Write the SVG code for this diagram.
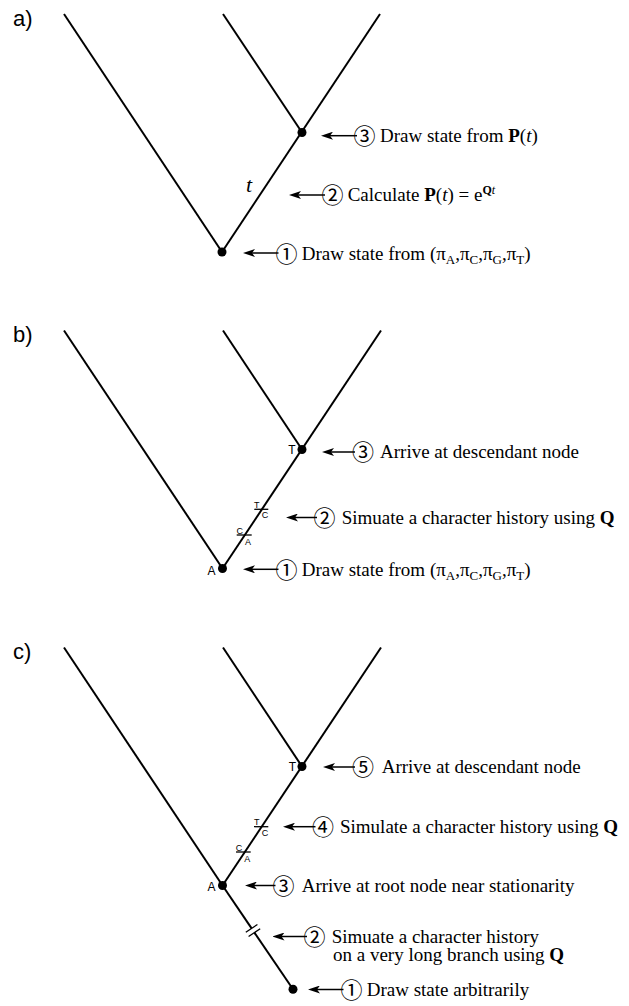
<svg xmlns="http://www.w3.org/2000/svg" width="629" height="1006" viewBox="0 0 629 1006">
<defs>
<marker id="ah" markerUnits="userSpaceOnUse" markerWidth="12" markerHeight="8" viewBox="0 0 12 8" refX="4" refY="4" orient="auto"><path d="M0,0 L12,4 L0,8 L3,4 Z" fill="#000"/></marker>
<style>
.br{stroke:#000;stroke-width:2;fill:none}
.ar{stroke:#000;stroke-width:1.5;fill:none;marker-end:url(#ah)}
.tk{stroke:#000;stroke-width:1.3}
.nd{fill:#000}
.t{font-family:"Liberation Serif",serif;font-size:19px;fill:#000}
.c{font-family:"Noto Sans CJK JP",sans-serif;font-size:22px}
.pl{font-family:"Liberation Sans",sans-serif;font-size:22px;fill:#000}
.nl{font-family:"Liberation Sans",sans-serif;font-size:12px;fill:#000;text-anchor:middle}
.sl{font-family:"Liberation Sans",sans-serif;font-size:9px;fill:#000;text-anchor:middle}
.b{font-weight:bold}
.i{font-style:italic}
.sub{font-size:13px}
</style>
</defs>

<g id="panel-labels">
<text class="pl" x="13" y="26">a)</text>
<text class="pl" x="13" y="342">b)</text>
<text class="pl" x="13" y="659">c)</text>
</g>

<g id="connectors">
<!-- panel a branches -->
<line class="br" x1="64" y1="14" x2="222" y2="252"/>
<line class="br" x1="222" y1="252" x2="380" y2="14"/>
<line class="br" x1="223" y1="14" x2="302" y2="132.5"/>
<!-- panel b branches -->
<line class="br" x1="64" y1="330.5" x2="222.5" y2="568.5"/>
<line class="br" x1="222.5" y1="568.5" x2="381" y2="330.5"/>
<line class="br" x1="223" y1="330.5" x2="302" y2="449.5"/>
<!-- panel c branches -->
<line class="br" x1="64" y1="647.5" x2="222.5" y2="885.5"/>
<line class="br" x1="222.5" y1="885.5" x2="381" y2="647.5"/>
<line class="br" x1="223" y1="647.5" x2="302" y2="766.5"/>
<line class="br" x1="222.5" y1="885.5" x2="251.6" y2="928.4"/>
<line class="br" x1="254.4" y1="932.6" x2="293" y2="989.3"/>
<line class="tk" x1="245.8" y1="932.3" x2="257.4" y2="924.5"/>
<line class="tk" x1="248.6" y1="936.5" x2="260.2" y2="928.7"/>

<!-- annotation arrows a -->
<line class="ar" x1="357" y1="135.7" x2="329" y2="135.7"/>
<line class="ar" x1="325" y1="195" x2="297" y2="195"/>
<line class="ar" x1="278.5" y1="253" x2="251" y2="253"/>
<!-- annotation arrows b -->
<line class="ar" x1="355" y1="452" x2="330" y2="452"/>
<line class="ar" x1="317" y1="517.5" x2="294" y2="517.5"/>
<line class="ar" x1="278.5" y1="569.3" x2="251" y2="569.3"/>
<!-- annotation arrows c -->
<line class="ar" x1="355" y1="767" x2="331" y2="767"/>
<line class="ar" x1="315.5" y1="826.7" x2="291" y2="826.7"/>
<line class="ar" x1="275.5" y1="885.5" x2="253" y2="885.5"/>
<line class="ar" x1="307" y1="936.5" x2="280.5" y2="936.5"/>
<line class="ar" x1="343.5" y1="989.5" x2="316" y2="989.5"/>
</g>

<g id="substitutions">
<!-- b -->
<line class="tk" x1="254.3" y1="509.3" x2="268.3" y2="509.3"/>
<text class="sl" x="256.8" y="507.8">T</text>
<text class="sl" x="265" y="518.3">C</text>
<line class="tk" x1="236.7" y1="535" x2="251.7" y2="535"/>
<text class="sl" x="239.7" y="533.5">C</text>
<text class="sl" x="247.9" y="544.5">A</text>
<!-- c -->
<line class="tk" x1="254" y1="826.7" x2="268.3" y2="826.7"/>
<text class="sl" x="256.7" y="825.2">T</text>
<text class="sl" x="265" y="835.7">C</text>
<line class="tk" x1="236" y1="852" x2="250.7" y2="852"/>
<text class="sl" x="239" y="850.5">C</text>
<text class="sl" x="247.3" y="861.5">A</text>
</g>

<g id="node-a-root"><circle class="nd" cx="222" cy="252" r="4.5"/></g>
<g id="node-a-desc"><circle class="nd" cx="302" cy="132.5" r="4.5"/></g>
<g id="label-a-t"><text class="t i" x="246" y="192" style="font-size:22px">t</text></g>

<g id="node-b-root"><circle class="nd" cx="222.5" cy="568.5" r="4.5"/><text class="nl" x="211.5" y="574.8">A</text></g>
<g id="node-b-desc"><circle class="nd" cx="302" cy="449.5" r="4.5"/><text class="nl" x="292" y="453.8">T</text></g>

<g id="node-c-root"><circle class="nd" cx="222.5" cy="885.5" r="4.5"/><text class="nl" x="211.5" y="890.8">A</text></g>
<g id="node-c-desc"><circle class="nd" cx="302" cy="766.5" r="4.5"/><text class="nl" x="292.5" y="771">T</text></g>
<g id="node-c-start"><circle class="nd" cx="293" cy="989.3" r="4.5"/></g>

<g id="ann-a3"><text class="t"><tspan class="c" x="353.5" y="144">③</tspan><tspan x="380" y="142">Draw state from </tspan><tspan class="b">P</tspan>(<tspan class="i">t</tspan>)</text></g>
<g id="ann-a2"><text class="t"><tspan class="c" x="321.5" y="203">②</tspan><tspan x="347.7" y="201">Calculate </tspan><tspan class="b">P</tspan>(<tspan class="i">t</tspan>) = e<tspan dy="-7" style="font-size:12px" class="b">Q</tspan><tspan style="font-size:12px" class="i">t</tspan></text></g>
<g id="ann-a1"><text class="t"><tspan class="c" x="275.5" y="261.5">①</tspan><tspan x="301.7" y="259.5">Draw state from (π</tspan><tspan class="sub" dy="4">A</tspan><tspan dy="-4">,π</tspan><tspan class="sub" dy="4">C</tspan><tspan dy="-4">,π</tspan><tspan class="sub" dy="4">G</tspan><tspan dy="-4">,π</tspan><tspan class="sub" dy="4">T</tspan><tspan dy="-4">)</tspan></text></g>

<g id="ann-b3"><text class="t"><tspan class="c" x="352" y="460.3">③</tspan><tspan x="380" y="458.3">Arrive at descendant node</tspan></text></g>
<g id="ann-b2"><text class="t"><tspan class="c" x="313.5" y="525.8">②</tspan><tspan x="341.7" y="523.8">Simuate a character history using </tspan><tspan class="b">Q</tspan></text></g>
<g id="ann-b1"><text class="t"><tspan class="c" x="275.5" y="577.6">①</tspan><tspan x="301.7" y="575.6">Draw state from (π</tspan><tspan class="sub" dy="4">A</tspan><tspan dy="-4">,π</tspan><tspan class="sub" dy="4">C</tspan><tspan dy="-4">,π</tspan><tspan class="sub" dy="4">G</tspan><tspan dy="-4">,π</tspan><tspan class="sub" dy="4">T</tspan><tspan dy="-4">)</tspan></text></g>

<g id="ann-c5"><text class="t"><tspan class="c" x="352" y="775.3">⑤</tspan><tspan x="381.7" y="773.3">Arrive at descendant node</tspan></text></g>
<g id="ann-c4"><text class="t"><tspan class="c" x="312" y="835">④</tspan><tspan x="340" y="833">Simulate a character history using </tspan><tspan class="b">Q</tspan></text></g>
<g id="ann-c3"><text class="t"><tspan class="c" x="272.5" y="893.8">③</tspan><tspan x="301.7" y="891.8">Arrive at root node near stationarity</tspan></text></g>
<g id="ann-c2"><text class="t"><tspan class="c" x="303.5" y="944.5">②</tspan><tspan x="331.7" y="942.5">Simuate a character history</tspan><tspan x="333" y="961">on a very long branch using </tspan><tspan class="b">Q</tspan></text></g>
<g id="ann-c1"><text class="t"><tspan class="c" x="340.5" y="998">①</tspan><tspan x="366.7" y="996">Draw state arbitrarily</tspan></text></g>
</svg>
